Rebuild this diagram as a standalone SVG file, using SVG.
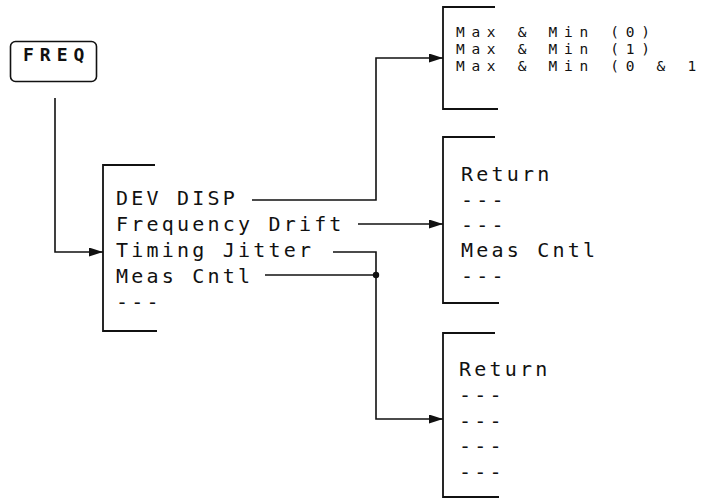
<svg xmlns="http://www.w3.org/2000/svg" width="709" height="500" viewBox="0 0 709 500">
<style>
.bg{fill:#fff}
.ln{fill:none;stroke:#111;stroke-width:1.6}
.br{fill:none;stroke:#111;stroke-width:1.8}
.key{fill:none;stroke:#111;stroke-width:1.6}
.t{font-family:"DejaVu Sans Mono","Liberation Mono",monospace;font-size:20px;letter-spacing:3.2px;fill:#111}
.ts{font-family:"DejaVu Sans Mono","Liberation Mono",monospace;font-size:14.5px;letter-spacing:6.7px;fill:#111}
.tk{font-family:"DejaVu Sans Mono","Liberation Mono",monospace;font-size:18px;font-weight:bold;letter-spacing:6px;fill:#111}
</style>
<defs>
<marker id="ah" markerUnits="userSpaceOnUse" markerWidth="16" markerHeight="10" refX="14" refY="4.5" orient="auto">
<path d="M0,0 L14,4.5 L0,9 z" fill="#111"/>
</marker>
</defs>
<rect class="bg" x="0" y="0" width="709" height="500"/>
<g id="freq">
<rect class="key" x="10.5" y="41.5" width="86" height="40" rx="5" ry="5"/>
<text class="tk" x="23" y="61">FREQ</text>
</g>
<g id="menu-main">
<path class="br" d="M155,165 H103 V331 H157"/>
<text class="t" x="116" y="205">DEV DISP</text>
<text class="t" x="116" y="231">Frequency Drift</text>
<text class="t" x="116" y="257">Timing Jitter</text>
<text class="t" x="116" y="283">Meas Cntl</text>
<text class="t" x="116" y="309">---</text>
</g>
<g id="menu-dev">
<path class="br" d="M495,7 H443 V109 H498"/>
<text class="ts" x="456" y="37">Max &amp; Min (0)</text>
<text class="ts" x="456" y="54">Max &amp; Min (1)</text>
<text class="ts" x="456" y="71">Max &amp; Min (0 &amp; 1</text>
</g>
<g id="menu-drift">
<path class="br" d="M495,137 H443 V303 H499"/>
<text class="t" x="461" y="181">Return</text>
<text class="t" x="461" y="206.5">---</text>
<text class="t" x="461" y="232">---</text>
<text class="t" x="461" y="257">Meas Cntl</text>
<text class="t" x="461" y="283">---</text>
</g>
<g id="menu-jitter">
<path class="br" d="M495,333 H443 V497 H499"/>
<text class="t" x="459" y="376">Return</text>
<text class="t" x="459" y="402">---</text>
<text class="t" x="459" y="427.5">---</text>
<text class="t" x="459" y="453">---</text>
<text class="t" x="459" y="478.5">---</text>
</g>
<g id="connectors">
<path class="ln" d="M55,98 V252 H103" marker-end="url(#ah)"/>
<path class="ln" d="M252,200 H376 V58 H443" marker-end="url(#ah)"/>
<path class="ln" d="M358,224 H443" marker-end="url(#ah)"/>
<path class="ln" d="M333,252 H376 V419 H443" marker-end="url(#ah)"/>
<path class="ln" d="M265,275 H376"/>
<circle cx="376" cy="275" r="3.2" fill="#111"/>
</g>
</svg>
